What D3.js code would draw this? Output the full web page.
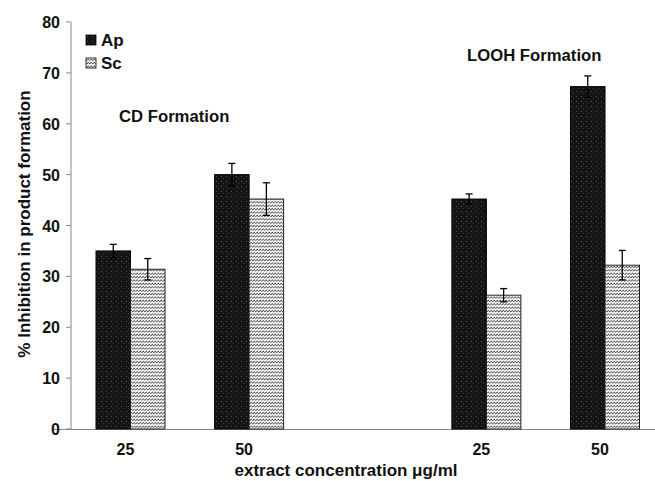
<!DOCTYPE html>
<html>
<head>
<meta charset="utf-8">
<script src="https://cdn.jsdelivr.net/npm/d3@7"></script>
<style>
  body { margin: 0; background: #fff; }
  text { font-family: "Liberation Sans", Arial, sans-serif; font-weight: bold; fill: #111; }
</style>
</head>
<body>
<script>
let width = 655
let height = 481

// data
let groups = ["25", "50", "25", "50"]
let slots = [0, 1, 3, 4]
let series = ["Ap", "Sc"]
let apValues = [35.0, 50.0, 45.2, 67.3]
let apErrors = [1.3, 2.2, 1.0, 2.1]
let scValues = [31.4, 45.2, 26.3, 32.2]
let scErrors = [2.1, 3.2, 1.3, 2.9]
let yTicks = [0, 10, 20, 30, 40, 50, 60, 70, 80]

let svg = d3.select("body")
    .append("svg")
    .attr("width", width)
    .attr("height", height)

let defs = svg.append("defs")

// speckled black for Ap
let dots = defs.append("pattern")
    .attr("id", "speckle")
    .attr("patternUnits", "userSpaceOnUse")
    .attr("width", 5)
    .attr("height", 5)
dots.append("rect").attr("width", 5).attr("height", 5).attr("fill", "#141414")
dots.append("rect").attr("x", 1).attr("y", 1).attr("width", 1).attr("height", 1).attr("fill", "#555")
dots.append("rect").attr("x", 3).attr("y", 3).attr("width", 1).attr("height", 1).attr("fill", "#3a3a3a")

// wavy hatch for Sc
let hatch = defs.append("pattern")
    .attr("id", "hatch")
    .attr("patternUnits", "userSpaceOnUse")
    .attr("width", 3)
    .attr("height", 3.4)
hatch.append("rect").attr("width", 3).attr("height", 3.4).attr("fill", "#fff")
hatch.append("path")
    .attr("d", "M0,2.6 L3,0.9")
    .attr("stroke", "#333")
    .attr("stroke-width", 1)

let y = d3.scaleLinear()
    .domain([0, 80])
    .range([429, 22])

let x = d3.scaleLinear()
    .domain([0, 4])
    .range([130.5, 605])

let barW = 34.5

// axes
svg.append("line")
    .attr("x1", 71).attr("x2", 71)
    .attr("y1", y(80)).attr("y2", y(0))
    .attr("stroke", "#888")
svg.append("line")
    .attr("x1", 53).attr("x2", width)
    .attr("y1", y(0) + 0.5).attr("y2", y(0) + 0.5)
    .attr("stroke", "#888")

svg.selectAll(".ytick")
    .data(yTicks)
    .enter()
    .append("line")
    .attr("x1", 66).attr("x2", 71)
    .attr("y1", d => y(d)).attr("y2", d => y(d))
    .attr("stroke", "#888")

svg.selectAll(".ylab")
    .data(yTicks)
    .enter()
    .append("text")
    .attr("x", 60)
    .attr("y", d => y(d) + 6)
    .attr("text-anchor", "end")
    .attr("font-size", 16)
    .text(d => d)

svg.selectAll(".xlab")
    .data(groups)
    .enter()
    .append("text")
    .attr("x", (d, i) => x(slots[i]) - 5)
    .attr("y", 455)
    .attr("text-anchor", "middle")
    .attr("font-size", 16)
    .text(d => d)

// bars
let g = svg.append("g")

g.selectAll(".ap")
    .data(apValues)
    .enter()
    .append("rect")
    .attr("x", (d, i) => x(slots[i]) - barW)
    .attr("y", d => y(d))
    .attr("width", barW)
    .attr("height", d => y(0) - y(d))
    .attr("fill", "url(#speckle)")
    .attr("stroke", "#000")
    .attr("stroke-width", 1)

g.selectAll(".sc")
    .data(scValues)
    .enter()
    .append("rect")
    .attr("x", (d, i) => x(slots[i]))
    .attr("y", d => y(d))
    .attr("width", barW)
    .attr("height", d => y(0) - y(d))
    .attr("fill", "url(#hatch)")
    .attr("stroke", "#222")
    .attr("stroke-width", 1)

// error bars
function errorBars(values, errors, offset) {
    let e = g.selectAll(null)
        .data(values)
        .enter()
        .append("g")
        .attr("stroke", "#000")
        .attr("stroke-width", 1.3)
    e.append("line")
        .attr("x1", (d, i) => x(slots[i]) + offset)
        .attr("x2", (d, i) => x(slots[i]) + offset)
        .attr("y1", (d, i) => y(d + errors[i]))
        .attr("y2", (d, i) => y(d - errors[i]))
    e.append("line")
        .attr("x1", (d, i) => x(slots[i]) + offset - 3.5)
        .attr("x2", (d, i) => x(slots[i]) + offset + 3.5)
        .attr("y1", (d, i) => y(d + errors[i]))
        .attr("y2", (d, i) => y(d + errors[i]))
    e.append("line")
        .attr("x1", (d, i) => x(slots[i]) + offset - 3.5)
        .attr("x2", (d, i) => x(slots[i]) + offset + 3.5)
        .attr("y1", (d, i) => y(d - errors[i]))
        .attr("y2", (d, i) => y(d - errors[i]))
}
errorBars(apValues, apErrors, -barW / 2)
errorBars(scValues, scErrors, barW / 2)

// legend
let legend = svg.selectAll(".legend")
    .data(series)
    .enter()
    .append("g")
    .attr("transform", (d, i) => `translate(86,${35 + i * 23})`)
legend.append("rect")
    .attr("width", 10).attr("height", 10)
    .attr("fill", (d, i) => i == 0 ? "url(#speckle)" : "url(#hatch)")
    .attr("stroke", "#000")
    .attr("stroke-width", 0.8)
legend.append("text")
    .attr("x", 15)
    .attr("y", 11)
    .attr("font-size", 17)
    .text(d => d)

// annotations
svg.append("text")
    .attr("x", 119).attr("y", 122)
    .attr("font-size", 16.7)
    .text("CD Formation")
svg.append("text")
    .attr("x", 467).attr("y", 61)
    .attr("font-size", 16.7)
    .text("LOOH Formation")

// axis titles
svg.append("text")
    .attr("x", 346).attr("y", 476)
    .attr("text-anchor", "middle")
    .attr("font-size", 17)
    .text("extract concentration μg/ml")
svg.append("text")
    .attr("transform", "translate(30,224) rotate(-90)")
    .attr("text-anchor", "middle")
    .attr("font-size", 17)
    .text("% Inhibition in product formation")
</script>
</body>
</html>
